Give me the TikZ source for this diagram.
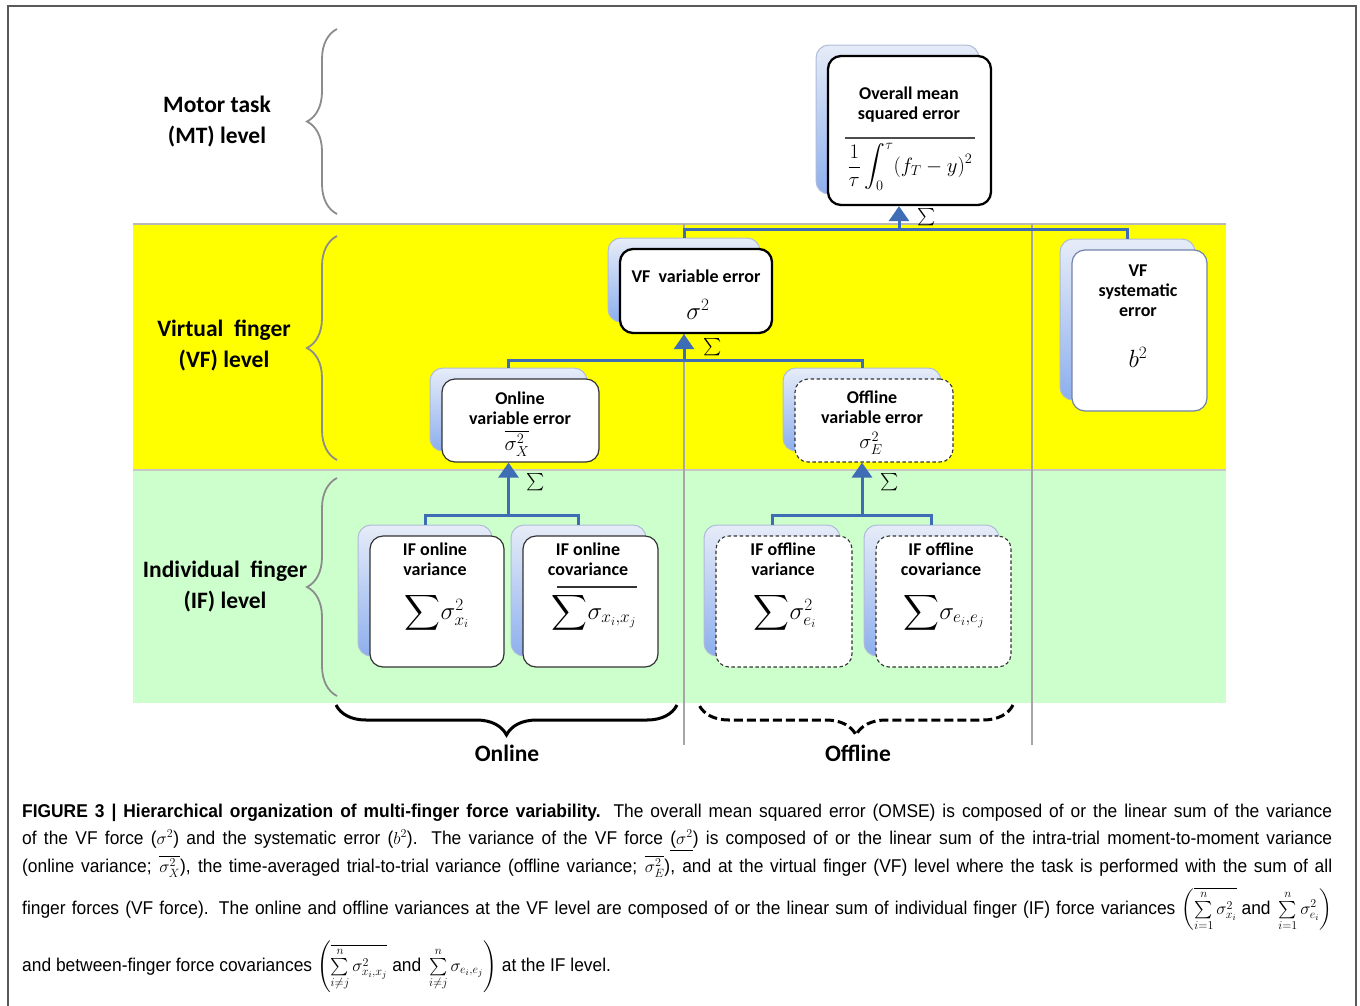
\documentclass[tikz,border=0pt]{standalone}
\usepackage{amsmath}
\usepackage{fontspec}
\usetikzlibrary{arrows.meta,decorations.pathreplacing}
\newfontfamily\boxfont{Carlito}
\newfontfamily\capfont[FakeStretch=0.94]{Liberation Sans}
\definecolor{bandyellow}{HTML}{FFFF00}
\definecolor{bandgreen}{HTML}{CCFFCC}
\definecolor{connblue}{HTML}{3E6DB5}
\definecolor{shadetop}{HTML}{E6ECF8}
\definecolor{shadebot}{HTML}{8DAFEE}
\definecolor{shadeline}{HTML}{AFBCD8}
\definecolor{sysline}{HTML}{7282AA}
\newcommand\twinbox[6]{%
  \node[shadowbox,minimum width=#4pt,minimum height=#5pt,xshift=-12pt,yshift=11pt] (#1s) at (#2,#3) {};
  \node[frontbox,#6,minimum width=#4pt,minimum height=#5pt] (#1) at (#2,#3) {};}
\newcommand\bigsum{{\fontsize{31}{31}\selectfont$\displaystyle\sum$}}
\begin{document}
\begin{tikzpicture}[x=1pt,y=-1pt,
  shadowbox/.style={draw=shadeline,line width=1pt,rounded corners=13pt,top color=shadetop,bottom color=shadebot,inner sep=0pt},
  frontbox/.style={fill=white,draw=black!80,line width=1.2pt,rounded corners=13pt,inner sep=0pt},
  strongbox/.style={draw=black,line width=2.3pt},
  dashbox/.style={draw=black!80,line width=1.1pt,dash pattern=on 3.5pt off 2.5pt},
  sysbox/.style={draw=sysline,line width=1.2pt},
  boxtext/.style={font=\boxfont\bfseries\fontsize{18}{21}\selectfont,inner sep=0pt},
  boxmath/.style={font=\fontsize{24}{26}\selectfont,inner sep=0pt},
  ifmath/.style={font=\fontsize{26}{28}\selectfont,inner sep=0pt},
  leveltext/.style={font=\boxfont\bfseries\fontsize{23.5}{31}\selectfont,align=center,inner sep=0pt},
  sumlabel/.style={font=\fontsize{18}{20}\selectfont,inner sep=0pt},
  conn/.style={draw=connblue,line width=3pt},
  uparrow/.style={conn,-{Triangle[width=20pt,length=15pt]},fill=connblue},
  levelbrace/.style={draw=black!45,line width=1.8pt,decorate,decoration={brace,amplitude=30pt}},
  groupbrace/.style={draw=black,line width=3pt,decorate,decoration={brace,amplitude=30pt}},
  divider/.style={draw=black!35,line width=1.5pt},
  capline/.style={font=\capfont\fontsize{18.5}{22}\selectfont,anchor=base west,inner sep=0pt},
]
\useasboundingbox (0,0) rectangle (1360,1005);
\fill[white] (0,0) rectangle (1360,1005);
% outer frame
\draw[black!65,line width=1.5pt] (8,1006) -- (8,6) -- (1356,6) -- (1356,1006);
% bands
\fill[bandyellow] (133,224) rectangle (1226,470);
\fill[bandgreen] (133,470) rectangle (1226,703);
\draw[black!28,line width=1.3pt] (133,224) -- (1226,224);
\draw[black!22,line width=1.3pt] (133,470) -- (1226,470);
% dividers
\draw[divider] (684,224) -- (684,745);
\draw[divider] (1032,224) -- (1032,745);
% level braces and labels
\draw[levelbrace] (337,214) -- (337,29);
\draw[levelbrace] (337,460) -- (337,236);
\draw[levelbrace] (337,696) -- (337,478);
\node[leveltext] (mt) at (217,121.5) {Motor task\\(MT) level};
\node[leveltext] (vf) at (224,345.5) {Virtual\ \ finger\\(VF) level};
\node[leveltext] (if) at (225,586.5) {Individual\ \ finger\\(IF) level};
% boxes
\twinbox{omse}{909.5}{130.5}{163}{149}{strongbox}
\twinbox{vfvar}{696}{291}{152}{84}{strongbox}
\twinbox{onvar}{520.5}{420.5}{157}{83}{}
\twinbox{offvar}{874}{420.5}{158}{83}{dashbox}
\twinbox{vfsys}{1139.5}{330.5}{135}{161}{sysbox}
\twinbox{ifonv}{437}{601.5}{134}{131}{}
\twinbox{ifonc}{590.5}{601.5}{135}{131}{}
\twinbox{ifoffv}{784}{601.5}{136}{131}{dashbox}
\twinbox{ifoffc}{943.5}{601.5}{135}{131}{dashbox}
% box contents
\node[boxtext] (omse1) at (909,93) {Overall mean};
\node[boxtext] (omse2) at (909,115) {squared error};
\coordinate (omseL) at (845,138);
\coordinate (omseR) at (975,138);
\draw[black!70,line width=1.2pt] (omseL) -- (omseR);
\node[boxmath] (omsef) at (910,167) {\fontsize{22}{24}\selectfont$\displaystyle\frac{1}{\tau}\int_{0}^{\tau}(f_T-y)^2$};
\node[boxtext] (vfvar1) at (696,276) {VF\ \ variable error};
\node[boxmath] (vfvarf) at (698,309) {$\sigma^2$};
\node[boxtext] (onvar1) at (520,398) {Online};
\node[boxtext] (onvar2) at (520,418) {variable error};
\node[boxmath] (onvarf) at (517,443) {\fontsize{22}{24}\selectfont$\overline{\sigma^2_X}$};
\node[boxtext] (offvar1) at (872,397) {Offline};
\node[boxtext] (offvar2) at (872,417) {variable error};
\node[boxmath] (offvarf) at (871,443) {\fontsize{22}{24}\selectfont$\sigma^2_E$};
\node[boxtext] (vfsys1) at (1138,271) {VF};
\node[boxtext] (vfsys2) at (1138,292) {systematic};
\node[boxtext] (vfsys3) at (1138,312) {error};
\node[boxmath] (vfsysf) at (1138,357) {$b^2$};
\node[boxtext] (ifonv1) at (435,549) {IF online};
\node[boxtext] (ifonv2) at (435,569) {variance};
\node[ifmath] (ifonvf) at (437,613) {\bigsum$\sigma^2_{x_i}$};
\node[boxtext] (ifonc1) at (588,549) {IF online};
\node[boxtext] (ifonc2) at (588,569) {covariance};
\coordinate (ifoncL) at (557,587);
\coordinate (ifoncR) at (637,587);
\draw[black!80,line width=1.1pt] (ifoncL) -- (ifoncR);
\node[ifmath] (ifoncf) at (594,613) {\bigsum$\sigma_{x_i,x_j}$};
\node[boxtext] (ifoffv1) at (783,549) {IF offline};
\node[boxtext] (ifoffv2) at (783,569) {variance};
\node[ifmath] (ifoffvf) at (785,613) {\bigsum$\sigma^2_{e_i}$};
\node[boxtext] (ifoffc1) at (941,549) {IF offline};
\node[boxtext] (ifoffc2) at (941,569) {covariance};
\node[ifmath] (ifoffcf) at (944,613) {\bigsum$\sigma_{e_i,e_j}$};
% connectors: top level
\coordinate (hubtop) at (899,229);
\draw[conn] (vfvars.north) -- (vfvars.north |- hubtop) -- (vfsyss.north |- hubtop) -- (vfsyss.north);
\draw[uparrow] (hubtop) -- (hubtop |- omse.south);
\node[sumlabel] (sum1) at (927,217) {$\sum$};
% VF level
\coordinate (hubvf) at (684,360);
\draw[conn] (onvars.north) -- (onvars.north |- hubvf) -- (offvars.north |- hubvf) -- (offvars.north);
\draw[uparrow] (hubvf) -- (hubvf |- vfvar.south);
\node[sumlabel] (sum2) at (713,347) {$\sum$};
% IF online
\coordinate (hubon) at (508.5,515);
\draw[conn] (ifonvs.north) -- (ifonvs.north |- hubon) -- (ifoncs.north |- hubon) -- (ifoncs.north);
\draw[uparrow] (hubon) -- (hubon |- onvar.south);
\node[sumlabel] (sum3) at (536,482) {$\sum$};
% IF offline
\coordinate (huboff) at (862,515);
\draw[conn] (ifoffvs.north) -- (ifoffvs.north |- huboff) -- (ifoffcs.north |- huboff) -- (ifoffcs.north);
\draw[uparrow] (huboff) -- (huboff |- offvar.south);
\node[sumlabel] (sum4) at (890,482) {$\sum$};
% group braces
\draw[groupbrace] (677,705) -- (336,705);
\draw[groupbrace,dash pattern=on 9pt off 4pt] (1013,705) -- (699,705);
\node[leveltext] (online) at (507,753) {Online};
\node[leveltext] (offline) at (858,753) {Offline};
% caption
\node[capline] (cap1) at (22,817) {\hbox to 1310pt{\bfseries FIGURE 3 | Hierarchical organization of multi-finger force variability.\mdseries{} The overall mean squared error (OMSE) is composed of or the linear sum of the variance}};
\node[capline] (cap2) at (22,844) {\hbox to 1310pt{of the VF force (\(\sigma^2\)) and the systematic error (\(b^2\)). The variance of the VF force \underline{(\(\sigma^2\)}) is composed of or the linear sum of the intra-trial moment-to-moment variance}};
\node[capline] (cap3) at (22,872) {\hbox to 1310pt{(online variance; \(\overline{\sigma^2_X}\)), the time-averaged trial-to-trial variance (offline variance; \(\overline{\sigma^2_E}\)), and at the virtual finger (VF) level where the task is performed with the sum of all}};
\node[capline] (cap4) at (22,914) {\hbox to 1310pt{finger forces (VF force). The online and offline variances at the VF level are composed of or the linear sum of individual finger (IF) force variances \(\left(\overline{\sum\limits_{i=1}^{n}\sigma^2_{x_i}}\ \text{and}\ \sum\limits_{i=1}^{n}\sigma^2_{e_i}\right)\)}};
\node[capline] (cap5) at (22,971) {and between-finger force covariances \(\left(\overline{\sum\limits_{i\neq j}^{n}\sigma^2_{x_i,x_j}}\ \text{and}\ \sum\limits_{i\neq j}^{n}\sigma_{e_i,e_j}\right)\) at the IF level.};
\end{tikzpicture}
\end{document}
